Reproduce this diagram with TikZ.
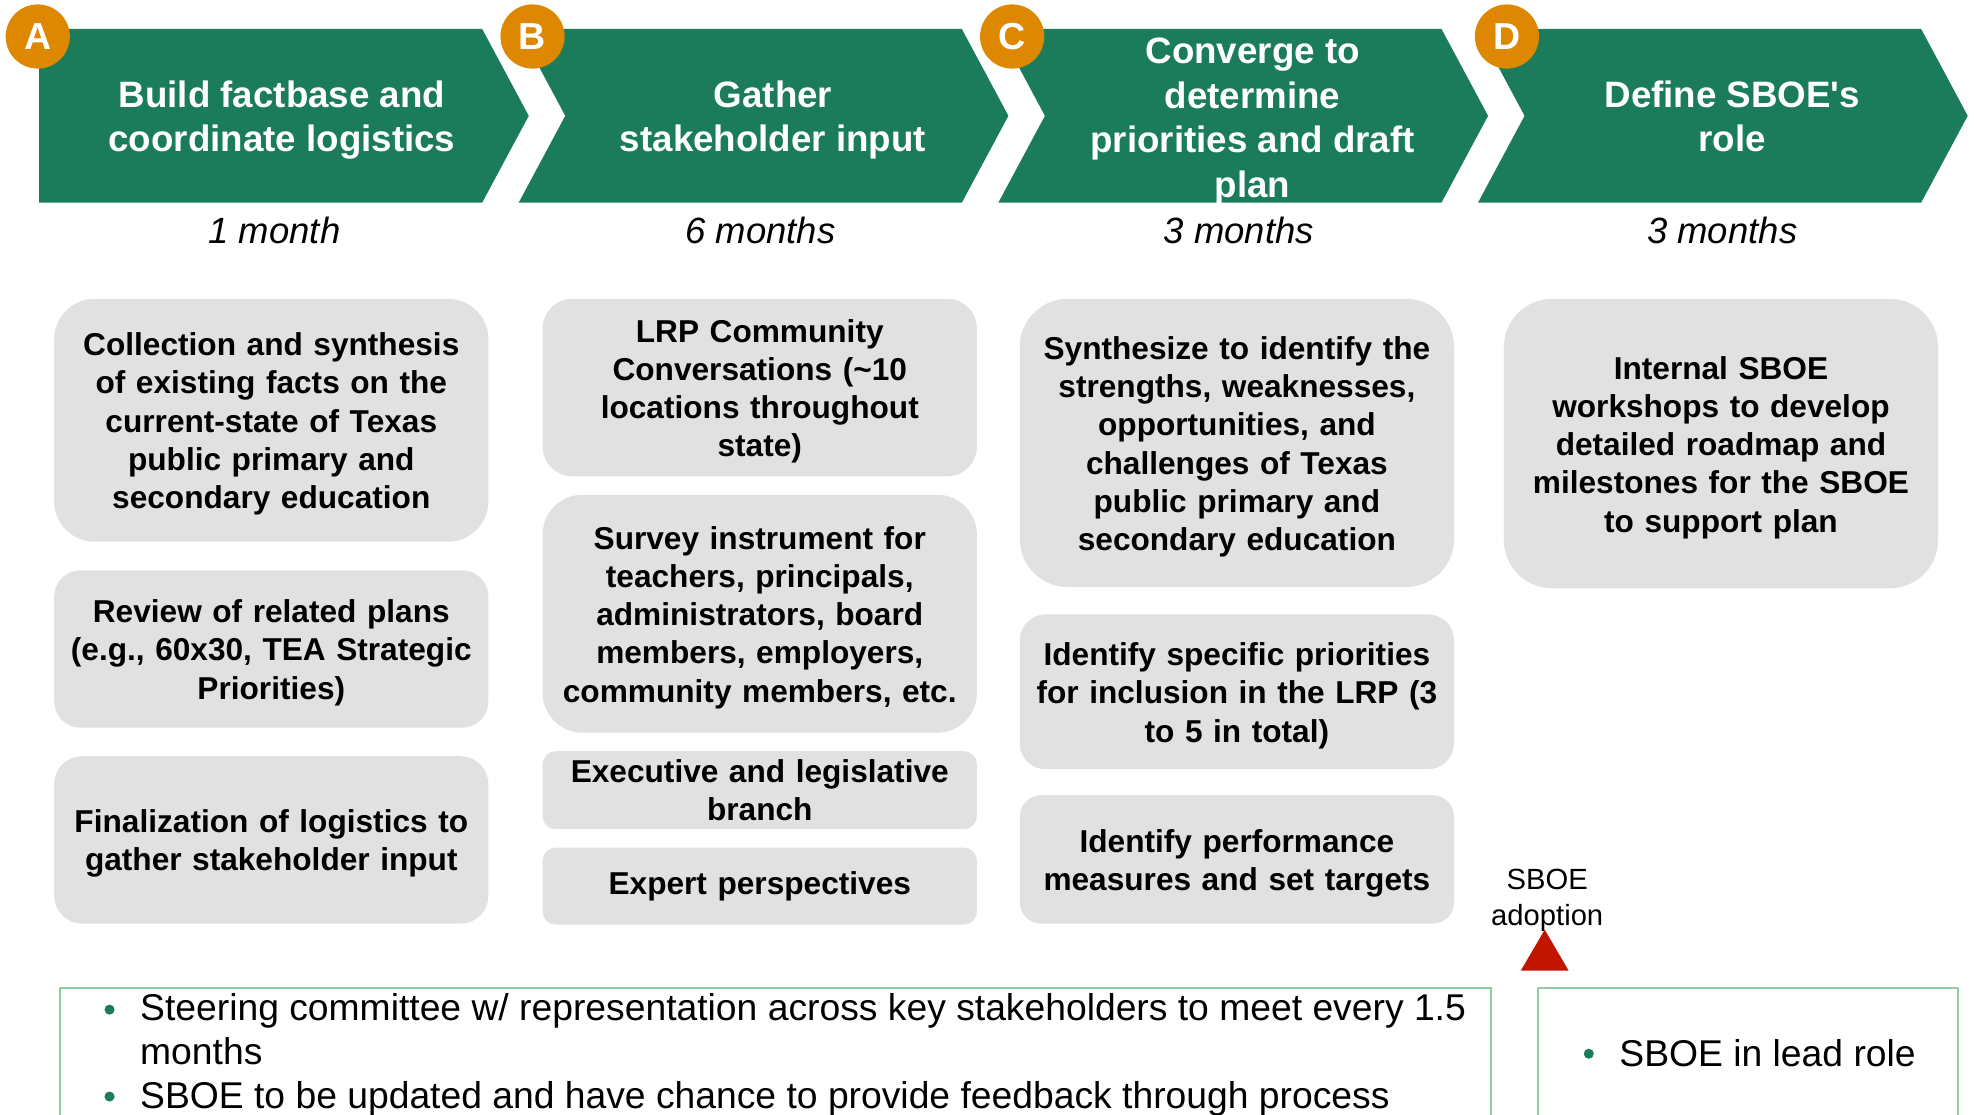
\documentclass[tikz,border=0pt]{standalone}
\usepackage{fontspec}
\setmainfont{Liberation Sans}
\usetikzlibrary{positioning}
\definecolor{phasegreen}{HTML}{1A7C5A}
\definecolor{tagorange}{HTML}{DD8800}
\definecolor{taskgray}{HTML}{E1E1E1}
\definecolor{noteline}{HTML}{92CBA4}
\definecolor{adoptred}{HTML}{C11500}

\begin{document}
\begin{tikzpicture}[x=0.02cm, y=-0.02cm, node distance=0.44cm,
  phase/.style={text=white, align=center, font=\fontsize{16.6}{20.1}\selectfont\bfseries},
  tag/.style={circle, fill=tagorange, text=white, minimum size=1.02cm, inner sep=0pt, font=\fontsize{17}{20}\selectfont\bfseries},
  period/.style={font=\fontsize{16.5}{20}\selectfont\itshape},
  slim/.style={fill=taskgray, text width=6.5cm, inner xsep=0.2cm, inner ysep=0pt, align=center,
    minimum height=#1 cm, rounded corners=#1 cm/6, font=\fontsize{14.3}{17.3}\selectfont\bfseries},
  task/.style={slim=#1, execute at begin node={\rule{0pt}{13.8pt}}},
  note/.style={draw=noteline, line width=0.9pt},
  point/.style={align=left, inner sep=0pt, font=\fontsize{16.85}{19.9}\selectfont}]
\path[use as bounding box, clip] (0,0) rectangle (1568,885);

\fill[phasegreen] (31,23) -- (383,23) -- (420,92) -- (383,161) -- (31,161) -- cycle;
\fill[phasegreen] (412,23) -- (764,23) -- (801,92) -- (764,161) -- (412,161) -- (449,92) -- cycle;
\fill[phasegreen] (793,23) -- (1145,23) -- (1182,92) -- (1145,161) -- (793,161) -- (830,92) -- cycle;
\fill[phasegreen] (1174,23) -- (1526,23) -- (1563,92) -- (1526,161) -- (1174,161) -- (1211,92) -- cycle;
\node[phase] (build) at (224,95.5) {Build factbase and\\coordinate logistics};
\node[phase] (gather) at (614,95.5) {Gather\\stakeholder input};
\node[phase] (converge) at (995,96.5) {Converge to\\determine\\priorities and draft\\plan};
\node[phase] (define) at (1376,92.5) {Define SBOE\textquotesingle s\\role};
\node[tag] (tagA) at (30,29) {A};
\node[tag] (tagB) at (423,29) {B};
\node[tag] (tagC) at (804,29) {C};
\node[tag] (tagD) at (1197,29) {D};
\node[period] (durA) at (218,183) {1 month};
\node[period] (durB) at (604,183) {6 months};
\node[period] (durC) at (984,183) {3 months};
\node[period] (durD) at (1368,183) {3 months};

\node[task=3.86, anchor=north] (facts) at (215.5,237) {Collection and synthesis\\of existing facts on the\\current-state of Texas\\public primary and\\secondary education};
\node[task=2.5, below=0.44cm of facts] (plans) {Review of related plans\\(e.g., 60x30, TEA Strategic\\Priorities)};
\node[task=2.66, below=0.44cm of plans] (logistics) {Finalization of logistics to\\gather stakeholder input};

\node[task=2.82, anchor=north] (lrp) at (603.5,237) {LRP Community\\Conversations (\textasciitilde10\\locations throughout\\state)};
\node[task=3.78, below=0.28cm of lrp] (survey) {Survey instrument for\\teachers, principals,\\administrators, board\\members, employers,\\community members, etc.};
\node[slim=1.24, below=0.28cm of survey] (branch) {Executive and legislative\\branch};
\node[slim=1.22, below=0.28cm of branch] (expert) {Expert perspectives};

\node[task=4.58, anchor=north] (swot) at (982.5,237) {Synthesize to identify the\\strengths, weaknesses,\\opportunities, and\\challenges of Texas\\public primary and\\secondary education};
\node[task=2.46, below=0.42cm of swot] (priorities) {Identify specific priorities\\for inclusion in the LRP (3\\to 5 in total)};
\node[task=2.04, below=0.4cm of priorities] (targets) {Identify performance\\measures and set targets};

\node[task=4.6, anchor=north] (workshops) at (1367,237) {Internal SBOE\\workshops to develop\\detailed roadmap and\\milestones for the SBOE\\to support plan};

\node[align=center, font=\fontsize{13.2}{16.4}\selectfont] (adoption) at (1229,715) {SBOE\\adoption};
\fill[adoptred] (1227,738.5) -- (1246,771) -- (1208,771) -- cycle;

\draw[note] (48,785) rectangle (1184,900);
\draw[note] (1222,785) rectangle (1555,900);
\fill[phasegreen] (87,802) circle (0.08cm);
\fill[phasegreen] (87,871) circle (0.08cm);
\fill[phasegreen] (1262,837) circle (0.08cm);
\node[point, anchor=north west] (steering) at (111,789) {Steering committee w/ representation across key stakeholders to meet every 1.5\\months};
\node[point, anchor=north west] (feedback) at (111,859) {SBOE to be updated and have chance to provide feedback through process};
\node[point, anchor=west] (lead) at (1286,836.5) {SBOE in lead role};
\end{tikzpicture}
\end{document}
